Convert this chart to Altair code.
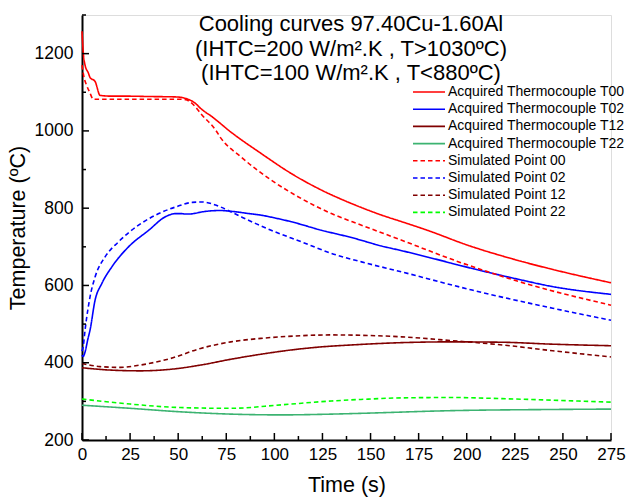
import altair as alt
import pandas as pd

FONT = "Liberation Sans"

names = [
    "Acquired Thermocouple T00",
    "Acquired Thermocouple T02",
    "Acquired Thermocouple T12",
    "Acquired Thermocouple T22",
    "Simulated Point 00",
    "Simulated Point 02",
    "Simulated Point 12",
    "Simulated Point 22",
]
colors = ["#ff0000", "#0000ff", "#800000", "#3cb371",
          "#ff0000", "#0000ff", "#800000", "#00ff00"]
dashes = [[1, 0], [1, 0], [1, 0], [1, 0],
          [4.5, 3], [4.5, 3], [4.5, 3], [4.5, 3]]

# Acquired Thermocouple T00
t_a00 = [0, 0.7, 1.6, 3.3, 4.2, 6.8, 9.4, 15, 22.5, 35, 48.6, 51.2, 53.8, 56.5, 59,
         61.7, 67.8, 77.4, 93, 108.7, 124.4, 140.1, 155.8, 166.2, 180, 200, 225, 250, 275]
v_a00 = [1258, 1200, 1170, 1150, 1138, 1128, 1092, 1090, 1090, 1089, 1088, 1087, 1084, 1079, 1071,
         1058, 1036, 997, 942, 890, 847, 812, 782, 765, 742, 705, 667, 635, 607]

# Acquired Thermocouple T02
t_a02 = [0, 0.6, 1.6, 3, 4.2, 6.8, 10.3, 15.5, 24.2, 34.7, 43.4, 48.6, 51.2, 53.8, 56.5,
         59, 62, 66.9, 72, 77.4, 86.9, 93, 100.9, 108.7, 124.4, 140.1, 155.8, 166.2, 180,
         202.8, 225, 244.7, 275]
v_a02 = [420, 416, 428, 460, 485, 562, 605, 648, 700, 743, 778, 786, 786, 785, 785,
         787, 790, 793, 794, 792, 786, 782, 774, 765, 743, 724, 702, 690, 673,
         644, 618, 597, 577]

# Acquired Thermocouple T12
t_a12 = [0, 14.6, 30.3, 46, 61.7, 77.4, 93, 108.7, 124.4, 140.1, 166.2, 192.4, 218.5, 244.7, 275]
v_a12 = [387, 381, 379, 383, 394, 409, 422, 433, 441, 446, 452, 454, 453, 448, 444]

# Acquired Thermocouple T22
t_a22 = [0, 25, 51, 77.4, 103.5, 129.7, 145, 192.4, 244.7, 275]
v_a22 = [290, 282, 273, 267, 265, 267, 269, 276, 279, 280]

# Simulated Point 00
t_s00 = [0, 1, 2.4, 4, 5.9, 20, 40, 50, 53.8, 56.5, 59, 61.7, 69.5, 72.1, 82.6, 98.3,
         114, 129.7, 145.3, 166.2, 195.9, 230.6, 275]
v_s00 = [1170, 1140, 1118, 1100, 1082, 1082, 1082, 1082, 1081, 1074, 1062, 1045, 1002, 982, 933, 873,
         825, 786, 756, 717, 661, 605, 549]

# Simulated Point 02
t_s02 = [0, 0.6, 1.6, 4.2, 6.8, 12, 19, 29.4, 39.9, 48.6, 57.3, 62.6, 69.5, 72.1, 82.6,
         90.4, 98.3, 114, 129.7, 145.3, 166.2, 202.8, 244.7, 275]
v_s02 = [430, 441, 485, 571, 622, 674, 713, 756, 786, 803, 815, 816, 808, 803, 778,
         760, 743, 713, 683, 661, 635, 588, 541, 510]

# Simulated Point 12
t_s12 = [0, 9.4, 19.9, 30.3, 46, 61.7, 77.4, 93, 114, 130, 145.3, 166.2, 192.4, 218.5, 244.7, 275]
v_s12 = [398, 390, 388, 394, 411, 437, 454, 463, 470, 472, 471, 467, 457, 446, 431, 415]

# Simulated Point 22
t_s22 = [0, 25, 51, 77.4, 103.5, 129.7, 145, 166.2, 192.4, 218.5, 244.7, 275]
v_s22 = [306, 293, 284, 282, 291, 301, 305, 309, 310, 307, 303, 298]

series_t = [t_a00, t_a02, t_a12, t_a22, t_s00, t_s02, t_s12, t_s22]
series_v = [v_a00, v_a02, v_a12, v_a22, v_s00, v_s02, v_s12, v_s22]

x_major = [0, 25, 50, 75, 100, 125, 150, 175, 200, 225, 250, 275]
x_minor = [12.5, 37.5, 62.5, 87.5, 112.5, 137.5, 162.5, 187.5, 212.5, 237.5, 262.5]
y_major = [200, 400, 600, 800, 1000, 1200]
y_minor = [300, 500, 700, 900, 1100, 1300]

title_lines = ["Cooling curves 97.40Cu-1.60Al",
               "(IHTC=200 W/m\u00b2.K , T>1030\u00baC)",
               "(IHTC=100 W/m\u00b2.K , T<880\u00baC)"]

rows = []
for name, ts, vs in zip(names, series_t, series_v):
    for i, (t, v) in enumerate(zip(ts, vs)):
        rows.append({"series": name, "t": t, "v": v, "i": i})
df = pd.DataFrame(rows)

W, H = 529, 425

xscale = alt.Scale(domain=[0, 275], nice=False, zero=False)
yscale = alt.Scale(domain=[200, 1300], nice=False, zero=False)

xaxis = alt.Axis(
    values=x_major, format="d", ticks=False, grid=False, domainColor="black", domainWidth=2,
    labelFont=FONT, labelFontSize=17, labelColor="black", labelPadding=6,
    labelFlush=False, labelOverlap=False,
    title="Time (s)", titleFont=FONT, titleFontSize=21.5, titleFontWeight="normal",
    titleColor="black", titlePadding=12)
yaxis = alt.Axis(
    values=y_major, format="d", ticks=False, grid=False, domainColor="black", domainWidth=2,
    labelFont=FONT, labelFontSize=17.5, labelColor="black", labelPadding=9,
    labelFlush=False, labelOverlap=False,
    title="Temperature (\u00baC)", titleFont=FONT, titleFontSize=21.5,
    titleFontWeight="normal", titleColor="black", titlePadding=5)

legend = alt.Legend(
    title=None, orient="none", legendX=330, legendY=68,
    symbolType="M-1,0H3", symbolSize=256, symbolStrokeWidth=1.6,
    labelFont=FONT, labelFontSize=14, labelColor="black", labelOffset=18,
    labelLimit=400, rowPadding=1.2, padding=0,
)

lines = alt.Chart(df).mark_line(strokeWidth=1.6, interpolate="monotone").encode(
    x=alt.X("t:Q", scale=xscale, axis=xaxis),
    y=alt.Y("v:Q", scale=yscale, axis=yaxis),
    color=alt.Color("series:N", scale=alt.Scale(domain=names, range=colors), legend=legend),
    strokeDash=alt.StrokeDash("series:N", scale=alt.Scale(domain=names, range=dashes), legend=legend),
    order="i:Q",
)

xmaj = alt.Chart(pd.DataFrame({"t": x_major})).mark_rule(color="black", strokeWidth=1.5).encode(
    x=alt.X("t:Q", scale=xscale, axis=xaxis), y=alt.value(H), y2=alt.value(H - 7))
xmin = alt.Chart(pd.DataFrame({"t": x_minor})).mark_rule(color="black", strokeWidth=1.5).encode(
    x=alt.X("t:Q", scale=xscale, axis=xaxis), y=alt.value(H), y2=alt.value(H - 4))
ymaj = alt.Chart(pd.DataFrame({"v": y_major})).mark_rule(color="black", strokeWidth=1.5).encode(
    y=alt.Y("v:Q", scale=yscale, axis=yaxis), x=alt.value(0), x2=alt.value(7))
ymin = alt.Chart(pd.DataFrame({"v": y_minor})).mark_rule(color="black", strokeWidth=1.5).encode(
    y=alt.Y("v:Q", scale=yscale, axis=yaxis), x=alt.value(0), x2=alt.value(4))

title = alt.Chart(pd.DataFrame({"a": [0]})).mark_text(
    text=title_lines, font=FONT, fontSize=22, color="black", align="center",
    baseline="top", lineHeight=24.5,
).encode(x=alt.value(269), y=alt.value(-1))

chart = alt.layer(lines, xmaj, xmin, ymaj, ymin, title).properties(
    width=W, height=H,
    autosize=alt.AutoSizeParams(type="none"),
    padding={"left": 82, "top": 15, "right": 16, "bottom": 62},
).configure_view(stroke=None).configure(background="white")

chart.save("out.html", embed_options={"renderer": "svg", "actions": False})
